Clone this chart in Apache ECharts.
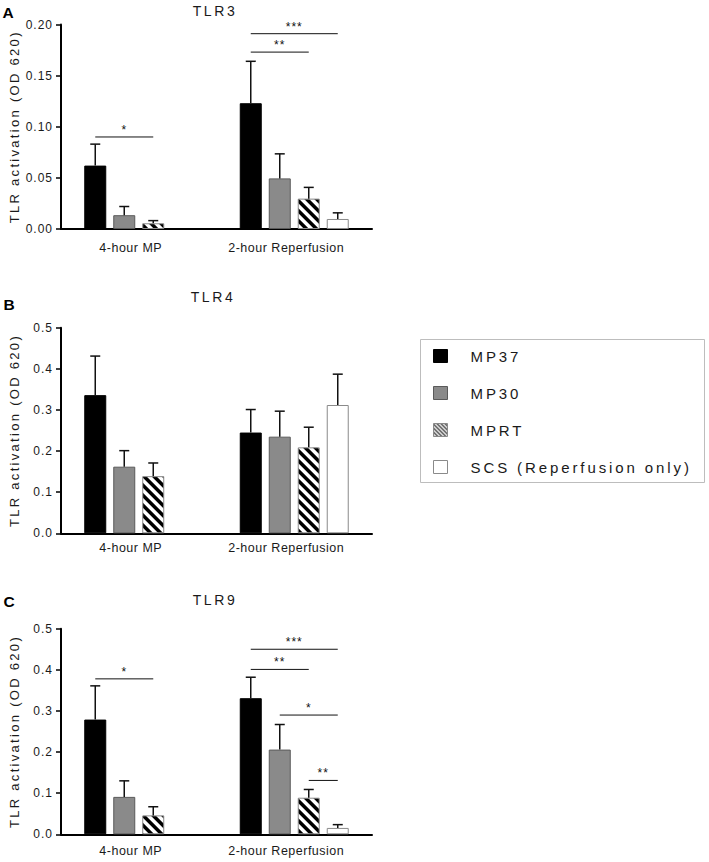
<!DOCTYPE html>
<html><head><meta charset="utf-8">
<script src="https://cdn.jsdelivr.net/npm/echarts@6/dist/echarts.min.js"></script>
<style>
html,body{margin:0;padding:0;background:#fff}
#c{width:709px;height:862px}
#c text[style*=" 12px"], #c text[style*=":12px"]{letter-spacing:1px}
#c text[style*=" 12.5px"], #c text[style*=":12.5px"]{letter-spacing:0.5px}
#c text[style*=" 13px"], #c text[style*=":13px"]{letter-spacing:2.3px}
#c text[style*=" 14px"], #c text[style*=":14px"]{letter-spacing:2.6px}
#c text[style*=" 15px"], #c text[style*=":15px"]{letter-spacing:2.9px}
</style></head><body><div id="c"></div>
<script>
// ---------- data ----------
const categories = ['4-hour MP', '2-hour Reperfusion'];
const groupNames = ['MP37', 'MP30', 'MPRT', 'SCS (Reperfusion only)'];
const panelTitles = ['TLR3', 'TLR4', 'TLR9'];
const panelLetters = ['A', 'B', 'C'];
const yAxisName = 'TLR activation (OD 620)';

// TLR3 (panel A)
const tlr3Mean_MP37 = [0.062, 0.123];
const tlr3Sem_MP37  = [0.021, 0.041];
const tlr3Mean_MP30 = [0.0135, 0.0495];
const tlr3Sem_MP30  = [0.0085, 0.024];
const tlr3Mean_MPRT = [0.0056, 0.0297];
const tlr3Sem_MPRT  = [0.0026, 0.011];
const tlr3Mean_SCS  = [null, 0.0098];
const tlr3Sem_SCS   = [null, 0.006];
const tlr3Ticks = [0, 0.05, 0.10, 0.15, 0.20];
// significance: [category, fromGroup, toGroup, height, label]
const tlr3Sig = [[0, 0, 2, 0.090, '*'], [1, 0, 2, 0.173, '**'], [1, 0, 3, 0.191, '***']];

// TLR4 (panel B)
const tlr4Mean_MP37 = [0.336, 0.245];
const tlr4Sem_MP37  = [0.095, 0.056];
const tlr4Mean_MP30 = [0.162, 0.235];
const tlr4Sem_MP30  = [0.039, 0.062];
const tlr4Mean_MPRT = [0.139, 0.209];
const tlr4Sem_MPRT  = [0.032, 0.049];
const tlr4Mean_SCS  = [null, 0.312];
const tlr4Sem_SCS   = [null, 0.075];
const tlr4Ticks = [0, 0.1, 0.2, 0.3, 0.4, 0.5];
const tlr4Sig = [];

// TLR9 (panel C)
const tlr9Mean_MP37 = [0.279, 0.331];
const tlr9Sem_MP37  = [0.082, 0.051];
const tlr9Mean_MP30 = [0.091, 0.206];
const tlr9Sem_MP30  = [0.039, 0.061];
const tlr9Mean_MPRT = [0.046, 0.089];
const tlr9Sem_MPRT  = [0.021, 0.020];
const tlr9Mean_SCS  = [null, 0.0155];
const tlr9Sem_SCS   = [null, 0.008];
const tlr9Ticks = [0, 0.1, 0.2, 0.3, 0.4, 0.5];
const tlr9Sig = [[0, 0, 2, 0.378, '*'], [1, 0, 3, 0.450, '***'], [1, 0, 2, 0.401, '**'], [1, 1, 3, 0.290, '*'], [1, 2, 3, 0.131, '**']];

// ---------- assembly ----------
const panels = [
  {means: [tlr3Mean_MP37, tlr3Mean_MP30, tlr3Mean_MPRT, tlr3Mean_SCS], sems: [tlr3Sem_MP37, tlr3Sem_MP30, tlr3Sem_MPRT, tlr3Sem_SCS], ticks: tlr3Ticks, sig: tlr3Sig, dec: 2},
  {means: [tlr4Mean_MP37, tlr4Mean_MP30, tlr4Mean_MPRT, tlr4Mean_SCS], sems: [tlr4Sem_MP37, tlr4Sem_MP30, tlr4Sem_MPRT, tlr4Sem_SCS], ticks: tlr4Ticks, sig: tlr4Sig, dec: 1},
  {means: [tlr9Mean_MP37, tlr9Mean_MP30, tlr9Mean_MPRT, tlr9Mean_SCS], sems: [tlr9Sem_MP37, tlr9Sem_MP30, tlr9Sem_MPRT, tlr9Sem_SCS], ticks: tlr9Ticks, sig: tlr9Sig, dec: 1}
];

// layout / style constants
const FONT = "'Liberation Sans', Arial, sans-serif";
const BAR_W = 22, BAR_GAP = 7, PITCH = BAR_W + BAR_GAP, CAP = 10;
const grids = [
  {left: 61, top: 24.5, width: 311, height: 204.5},
  {left: 61, top: 327.7, width: 311, height: 205.6},
  {left: 61, top: 628.7, width: 311, height: 205.6}
];
const labelMargins = [12, 8, 10];
const titlePos = [[215, 11], [213, 297], [215, 600]];
const letterPos = [[8, 12], [9, 304], [9, 601]];

function makeHatch(period, duty) {
  const c = document.createElement('canvas');
  c.width = c.height = period;
  const ctx = c.getContext('2d');
  const img = ctx.createImageData(period, period);
  const ss = 4;
  for (let y = 0; y < period; y++) for (let x = 0; x < period; x++) {
    let cov = 0;
    for (let sy = 0; sy < ss; sy++) for (let sx = 0; sx < ss; sx++) {
      const px = x + (sx + 0.5) / ss, py = y + (sy + 0.5) / ss;
      const d = (((py - px) % period) + period) % period;
      if (d < period * duty) cov++;
    }
    const v = Math.round(255 * (1 - cov / (ss * ss)));
    const i = (y * period + x) * 4;
    img.data[i] = img.data[i + 1] = img.data[i + 2] = v; img.data[i + 3] = 255;
  }
  ctx.putImageData(img, 0, 0);
  return c;
}
const hatch = {image: makeHatch(10, 0.5), repeat: 'repeat', imageWidth: 10, imageHeight: 10};
const hatchFine = {image: makeHatch(4, 0.35), repeat: 'repeat', imageWidth: 4, imageHeight: 4};

const barStyles = [
  {color: '#000000', borderColor: '#000000', borderWidth: 1},
  {color: '#8a8a8a', borderColor: '#5a5a5a', borderWidth: 1},
  {color: hatch, borderColor: '#8a8a8a', borderWidth: 1},
  {color: '#ffffff', borderColor: '#8a8a8a', borderWidth: 1}
];
const legendStyles = [
  {color: '#000000', borderColor: '#000000', borderWidth: 1},
  {color: '#8a8a8a', borderColor: '#5a5a5a', borderWidth: 1},
  {color: hatchFine, borderColor: '#8a8a8a', borderWidth: 1},
  {color: '#ffffff', borderColor: '#8a8a8a', borderWidth: 1}
];

function errRender(params, api) {
  const cat = api.value(0), slot = api.value(1), mean = api.value(2), hi = api.value(3);
  const base = api.coord([cat, mean]);
  const top = api.coord([cat, hi]);
  const x = base[0] + (slot - 1.5) * PITCH;
  return {type: 'group', children: [
    {type: 'line', shape: {x1: x, y1: base[1], x2: x, y2: top[1]}, style: {stroke: '#111', lineWidth: 1.5}},
    {type: 'line', shape: {x1: x - CAP / 2, y1: top[1], x2: x + CAP / 2, y2: top[1]}, style: {stroke: '#111', lineWidth: 1.5}}
  ]};
}

function makeSigRender(sigArr) {
  return function (params, api) {
    const cat = api.value(0), s0 = api.value(1), s1 = api.value(2), yv = api.value(3);
    const p = api.coord([cat, yv]);
    const x0 = p[0] + (s0 - 1.5) * PITCH, x1 = p[0] + (s1 - 1.5) * PITCH;
    return {type: 'group', children: [
      {type: 'line', shape: {x1: x0, y1: p[1], x2: x1, y2: p[1]}, style: {stroke: '#111', lineWidth: 1}},
      {type: 'text', x: (x0 + x1) / 2, y: p[1] - 7, style: {text: sigArr[params.dataIndex][4], fontSize: 12, fontFamily: FONT, fill: '#111', align: 'center', verticalAlign: 'middle', textAlign: 'center', textVerticalAlign: 'middle'}}
    ]};
  };
}

const option = {
  animation: false,
  grid: grids.map(g => Object.assign({}, g)),
  xAxis: grids.map((g, i) => ({
    type: 'category', gridIndex: i, data: categories,
    axisLine: {lineStyle: {color: '#000', width: 2}},
    axisTick: {show: false},
    axisLabel: {interval: 0, color: '#1a1a1a', fontSize: 12.5, fontFamily: FONT, margin: labelMargins[i], padding: [0, 16, 0, 0]}
  })),
  yAxis: panels.map((p, i) => ({
    type: 'value', gridIndex: i,
    min: p.ticks[0], max: p.ticks[p.ticks.length - 1], interval: p.ticks[1] - p.ticks[0],
    name: yAxisName, nameLocation: 'middle', nameGap: 40,
    nameTextStyle: {fontSize: 13, fontFamily: FONT, color: '#1a1a1a'},
    splitLine: {show: false},
    axisLine: {show: true, lineStyle: {color: '#000', width: 2}},
    axisTick: {show: true, length: 5, lineStyle: {color: '#000', width: 1.5}},
    axisLabel: {color: '#1a1a1a', fontSize: 12, fontFamily: FONT, margin: 8, formatter: v => v.toFixed(p.dec)}
  })),
  legend: {
    orient: 'vertical', left: 433, top: 348, padding: 0,
    itemWidth: 14, itemHeight: 13, itemGap: 21, icon: 'rect',
    selectedMode: false,
    data: groupNames.map((n, i) => ({name: n, itemStyle: legendStyles[i]})),
    textStyle: {fontSize: 15, fontFamily: FONT, color: '#1a1a1a', padding: [0, 0, 0, 18], lineHeight: 16}
  },
  graphic: [
    {type: 'rect', shape: {x: 420.5, y: 339.5, width: 284, height: 143}, style: {fill: 'none', stroke: '#bdbdbd', lineWidth: 1}}
  ].concat(panelTitles.map((t, i) => ({
    type: 'text', x: titlePos[i][0], y: titlePos[i][1],
    style: {text: t, fontSize: 14, fontFamily: FONT, fill: '#1a1a1a', align: 'center', verticalAlign: 'middle', textAlign: 'center', textVerticalAlign: 'middle'}
  }))).concat(panelLetters.map((t, i) => ({
    type: 'text', x: letterPos[i][0], y: letterPos[i][1],
    style: {text: t, fontSize: 15.5, fontWeight: 'bold', fontFamily: FONT, fill: '#000', align: 'center', verticalAlign: 'middle', textAlign: 'center', textVerticalAlign: 'middle'}
  }))),
  series: []
};

panels.forEach((p, pi) => {
  groupNames.forEach((name, gi) => {
    option.series.push({
      type: 'bar', name: name, xAxisIndex: pi, yAxisIndex: pi,
      data: p.means[gi], barWidth: BAR_W, barGap: (BAR_GAP / BAR_W * 100).toFixed(1) + '%',
      itemStyle: barStyles[gi], emphasis: {disabled: true}
    });
  });
  const errData = [];
  p.means.forEach((arr, gi) => arr.forEach((m, ci) => {
    if (m != null) errData.push([ci, gi, m, m + p.sems[gi][ci]]);
  }));
  option.series.push({type: 'custom', xAxisIndex: pi, yAxisIndex: pi, renderItem: errRender, data: errData, clip: false, z: 3, silent: true});
  if (p.sig.length) {
    option.series.push({type: 'custom', xAxisIndex: pi, yAxisIndex: pi, renderItem: makeSigRender(p.sig),
      data: p.sig.map(s => [s[0], s[1], s[2], s[3]]), clip: false, z: 4, silent: true});
  }
});

const chart = echarts.init(document.getElementById('c'), null, {renderer: 'svg'});
chart.setOption(option);
</script></body></html>
